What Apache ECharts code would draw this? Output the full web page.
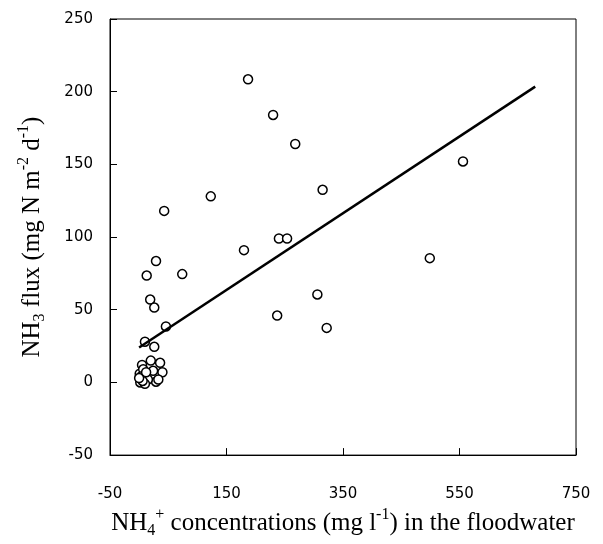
<!DOCTYPE html>
<html>
<head>
<meta charset="utf-8">
<script src="https://cdn.jsdelivr.net/npm/echarts@6/dist/echarts.min.js"></script>
<style>
  html, body { margin: 0; padding: 0; background: #fff; }
  #chart { width: 603px; height: 544px; }
</style>
</head>
<body>
<div id="chart"></div>
<script>
// NH4+ concentration (mg l-1) vs NH3 flux (mg N m-2 d-1)
const concentration = [
  187, 230, 268, 556, 315, 123, 43, 240, 254, 180, 499, 29, 13, 74, 19, 26,
  306, 237, 322, 46, 10, 26, 20, 36, 5, 40, 29, 24, 10, 4, 1, 15, 2, 10, 33,
  7, 3, 12, 6, 0
]
const flux = [
  208.5, 184, 164, 152, 132.5, 128, 118, 99, 99, 91, 85.5, 83.5, 73.5, 74.5, 57, 51.5,
  60.5, 46, 37.5, 38.5, 28, 24.5, 15, 13.5, 12, 7, 0.5, 8, 4.5, 2, 6, 2, 0, -1, 2,
  9, 4, 7, 1, 3
]
// regression line end points
const trendX = [0, 680]
const trendY = [24, 203.5]

const xTicks = [-50, 750, 200]   // min, max, step
const yTicks = [-50, 250, 50]

const chart = echarts.init(document.getElementById('chart'))

const tickLabel = { color: '#000', fontSize: 15, fontFamily: 'DejaVu Sans' }
const nameStyle = {
  color: '#000',
  fontSize: 25,
  fontFamily: 'Liberation Serif',
  lineHeight: 32,
  rich: {
    sub: { fontSize: 16, fontFamily: 'Liberation Serif', color: '#000', verticalAlign: 'bottom', lineHeight: 22 },
    sup: { fontSize: 16, fontFamily: 'Liberation Serif', color: '#000', verticalAlign: 'top', lineHeight: 18 }
  }
}

chart.setOption({
  animation: false,
  grid: {
    left: 110,
    right: 27,
    top: 19,
    bottom: 84,
    show: true,
    borderColor: '#000',
    borderWidth: 1
  },
  xAxis: {
    type: 'value',
    min: xTicks[0],
    max: xTicks[1],
    interval: xTicks[2],
    name: 'NH{sub|4}{sup|+} concentrations (mg l{sup|-1}) in the floodwater',
    nameLocation: 'middle',
    nameGap: 50,
    nameTextStyle: nameStyle,
    axisLine: { onZero: false, lineStyle: { color: '#000', width: 1 } },
    axisTick: { inside: true, length: 7, lineStyle: { color: '#000' } },
    axisLabel: Object.assign({ margin: 32 }, tickLabel),
    splitLine: { show: false }
  },
  yAxis: {
    type: 'value',
    min: yTicks[0],
    max: yTicks[1],
    interval: yTicks[2],
    name: 'NH{sub|3} flux (mg N m{sup|-2} d{sup|-1})',
    nameLocation: 'middle',
    nameRotate: 90,
    nameGap: 62,
    nameTextStyle: nameStyle,
    axisLine: { show: true, onZero: false, lineStyle: { color: '#000', width: 1 } },
    axisTick: { show: true, inside: true, length: 7, lineStyle: { color: '#000' } },
    axisLabel: Object.assign({ margin: 17 }, tickLabel),
    splitLine: { show: false }
  },
  series: [
    {
      type: 'scatter',
      symbol: 'circle',
      symbolSize: 9,
      itemStyle: { color: '#fff', borderColor: '#000', borderWidth: 1.5, opacity: 1 },
      data: concentration.map((x, i) => [x, flux[i]])
    },
    {
      type: 'line',
      showSymbol: false,
      symbol: 'none',
      lineStyle: { color: '#000', width: 2.5 },
      data: trendX.map((x, i) => [x, trendY[i]])
    }
  ]
})
</script>
</body>
</html>
